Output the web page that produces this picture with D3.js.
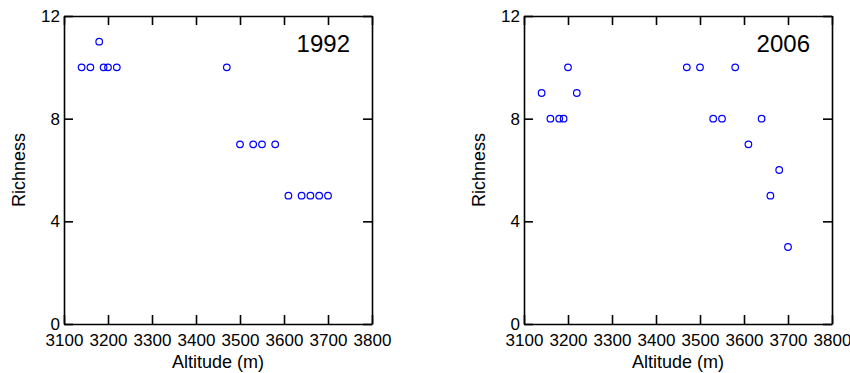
<!DOCTYPE html>
<html>
<head>
<meta charset="utf-8">
<script src="https://cdn.jsdelivr.net/npm/d3@7"></script>
<style>
  html, body { margin: 0; padding: 0; background: #fff; }
  svg { display: block; font-family: Arial, "Liberation Sans", sans-serif; }
  .axis path, .axis line { stroke: #000; stroke-width: 1.6px; }
  .axis text { font-size: 17px; fill: #000; font-family: Arial, "Liberation Sans", sans-serif; }
</style>
</head>
<body>
<script>
// Species richness along the altitude gradient, two survey years
const altitude = [3140, 3160, 3180, 3190, 3200, 3220, 3470, 3500, 3530, 3550, 3580, 3610, 3640, 3660, 3680, 3700];
const richness1992 = [10, 10, 11, 10, 10, 10, 10, 7, 7, 7, 7, 5, 5, 5, 5, 5];
const richness2006 = [9, 8, 8, 8, 10, 9, 10, 10, 8, 8, 10, 7, 8, 5, 6, 3];
const years = ["1992", "2006"];
const xTicks = [3100, 3200, 3300, 3400, 3500, 3600, 3700, 3800];
const yTicks = [0, 4, 8, 12];

const W = 850, H = 373;
const svg = d3.select("body").append("svg").attr("width", W).attr("height", H);

const panelW = 308, panelH = 308;
const panels = [
  { year: years[0], values: richness1992, left: 64, top: 16 },
  { year: years[1], values: richness2006, left: 524, top: 16 }
];

panels.forEach(p => {
  const x = d3.scaleLinear().domain([3100, 3800]).range([0, panelW]);
  const y = d3.scaleLinear().domain([0, 12]).range([panelH, 0]);

  const g = svg.append("g").attr("transform", `translate(${p.left},${p.top})`);

  // frame made of four axes, ticks pointing inwards
  g.append("g").attr("class", "axis")
    .attr("transform", `translate(0,${panelH})`)
    .call(d3.axisBottom(x).tickValues(xTicks).tickSizeInner(-9).tickSizeOuter(0).tickPadding(10).tickFormat(d3.format("d")));
  g.append("g").attr("class", "axis")
    .call(d3.axisTop(x).tickValues(xTicks).tickSizeInner(-9).tickSizeOuter(0).tickFormat(""));
  g.append("g").attr("class", "axis")
    .call(d3.axisLeft(y).tickValues(yTicks).tickSizeInner(-9).tickSizeOuter(0).tickPadding(4).tickFormat(d3.format("d")));
  g.append("g").attr("class", "axis")
    .attr("transform", `translate(${panelW},0)`)
    .call(d3.axisRight(y).tickValues(yTicks).tickSizeInner(-9).tickSizeOuter(0).tickFormat(""));

  // data points
  g.append("g").selectAll("circle")
    .data(altitude.map((a, i) => ({ a, r: p.values[i] })))
    .join("circle")
    .attr("cx", d => x(d.a))
    .attr("cy", d => y(d.r))
    .attr("r", 3.3)
    .attr("fill", "none")
    .attr("stroke", "#0000ff")
    .attr("stroke-width", 1.2);

  // year label
  g.append("text")
    .attr("x", 286).attr("y", 36)
    .attr("text-anchor", "end")
    .attr("font-size", 24)
    .attr("fill", "#000")
    .text(p.year);

  // axis titles
  g.append("text")
    .attr("x", panelW / 2).attr("y", panelH + 44)
    .attr("text-anchor", "middle")
    .attr("font-size", 18)
    .attr("fill", "#000")
    .text("Altitude (m)");
  g.append("text")
    .attr("transform", `translate(-39,${panelH / 2}) rotate(-90)`)
    .attr("text-anchor", "middle")
    .attr("font-size", 18)
    .attr("fill", "#000")
    .text("Richness");
});
</script>
</body>
</html>
